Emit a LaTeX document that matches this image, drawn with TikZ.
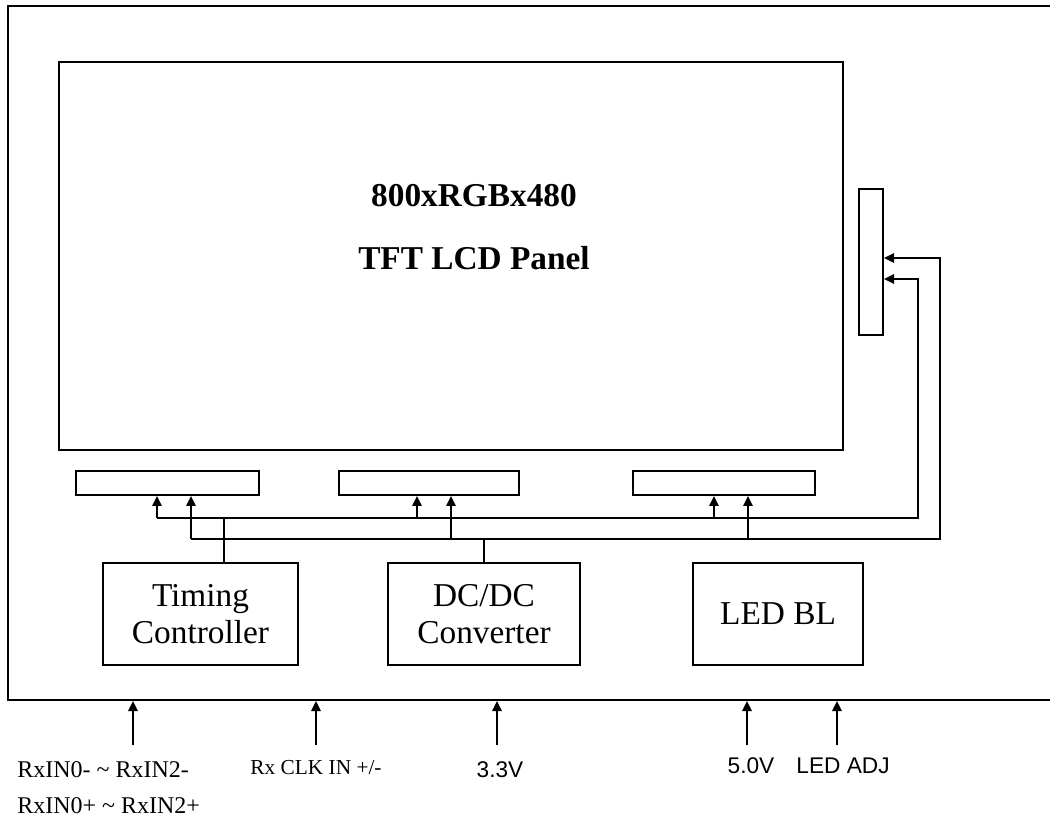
\documentclass[tikz,border=0pt]{standalone}
\usepackage{fontspec}
\setmainfont{Liberation Serif}
\newfontfamily\arialfont{Liberation Sans}
\usetikzlibrary{arrows.meta}
\tikzset{
	blk/.style={draw, line width=1.5pt, inner sep=0pt, align=center},
	strip/.style={blk, minimum height=18pt},
	unit/.style={blk, minimum height=76.5pt, font=\fontsize{25}{28}\selectfont},
	wire/.style={line width=1.5pt},
	arr/.style={wire, -{Triangle[length=7.5pt, width=7pt]}},
	pin/.style={inner sep=0pt, font=\arialfont\fontsize{17}{20}\selectfont},
}

\begin{document}
\begin{tikzpicture}[x=0.75pt, y=-0.75pt]
	\useasboundingbox (0,0) rectangle (1050,823);

	% module outline and panel
	\node[blk, minimum width=789pt, minimum height=520.5pt] (frame) at (534,353) {};
	\node[blk, minimum width=588pt, minimum height=291pt] (panel) at (451,256) {};
	\node[anchor=base, font=\bfseries\fontsize{25}{30}\selectfont] (res) at (474,207) {800xRGBx480};
	\node[anchor=base, font=\bfseries\fontsize{25}{30}\selectfont] (lcd) at (474,270) {TFT LCD Panel};
	\node[blk, minimum width=18pt, minimum height=109.5pt] (fpc) at (871,262) {};

	% connector strips
	\node[strip, minimum width=137.25pt] (conA) at (167.5,483) {};
	\node[strip, minimum width=135pt] (conB) at (429,483) {};
	\node[strip, minimum width=136.5pt] (conC) at (724,483) {};

	% function blocks
	\node[unit, minimum width=146.25pt] (tcon) at (200.5,614) {Timing\\Controller};
	\node[unit, minimum width=144pt] (dcdc) at (484,614) {DC/DC\\Converter};
	\node[unit, minimum width=127.5pt] (ledbl) at (778,614) {LED BL};

	% buses
	\coordinate (u1) at (157,518);
	\coordinate (u2) at (417,518);
	\coordinate (u3) at (714,518);
	\coordinate (u4) at (918,518);
	\coordinate (ut) at (224,518);
	\coordinate (l1) at (191,539);
	\coordinate (l2) at (451,539);
	\coordinate (l3) at (748,539);
	\coordinate (l4) at (940,539);
	\coordinate (fin1) at ([yshift=-12.75pt]fpc.east);
	\coordinate (fin2) at ([yshift=3pt]fpc.east);

	\draw[arr] (u1) -- (u4) |- (fin1);
	\draw[arr] (l1) -- (l4) |- (fin2);
	\foreach \t/\c in {u1/conA, u2/conB, u3/conC, l1/conA, l2/conB, l3/conC}
		\draw[arr] (\t) -- (\t |- \c.south);
	\draw[wire] (ut) -- (ut |- tcon.north);
	\draw[wire] (dcdc.north) -- (dcdc.north |- l1);

	% inputs
	\foreach \i/\x in {1/133, 2/316, 3/497, 4/747, 5/837}
		\coordinate (in\i) at (\x,745);
	\foreach \i in {1,...,5}
		\draw[arr] (in\i) -- (in\i |- frame.south);

	\node[anchor=west, align=left, inner sep=0pt, font=\fontsize{18}{27}\selectfont] (rxin) at (17,788)
		{RxIN0- \textasciitilde{} RxIN2-\\RxIN0+ \textasciitilde{} RxIN2+};
	\node[inner sep=0pt, font=\fontsize{16}{19}\selectfont] (rxclk) at (316,768) {Rx CLK IN +/-};
	\node[pin] (v33) at (500,770) {3.3V};
	\node[pin] (v50) at (751,766) {5.0V};
	\node[pin] (adj) at (843,766) {LED ADJ};
\end{tikzpicture}
\end{document}
